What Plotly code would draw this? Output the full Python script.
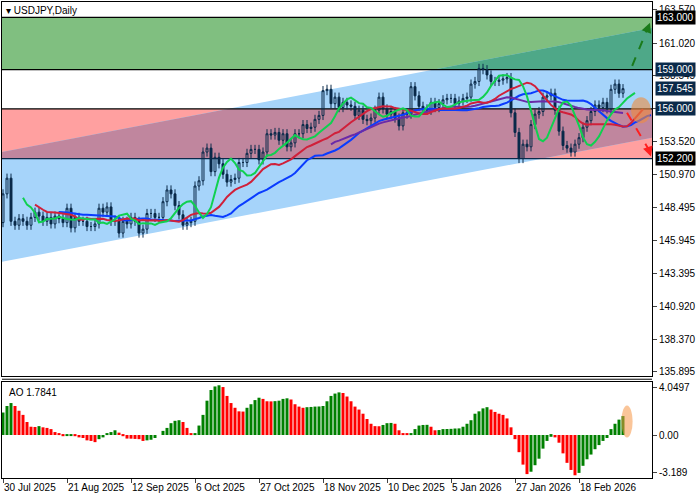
import plotly.graph_objects as go

dates = ["30 Jul 2025","21 Aug 2025","12 Sep 2025","6 Oct 2025","27 Oct 2025","18 Nov 2025",
         "10 Dec 2025","5 Jan 2026","27 Jan 2026","18 Feb 2026"]
closes = [149.5,150.7,147.4,147.1,147.6,147.4,147.1,147.7,148.1,147.8,147.4,147.7,147.2,147.8,147.6,147.3,
          148.4,146.9,147.7,147.4,147.4,147.0,147.0,147.2,148.4,148.1,148.5,147.4,147.5,146.5,147.4,147.2,
          147.7,147.4,146.5,146.8,148.0,148.0,147.7,147.7,148.9,149.8,149.5,148.6,147.9,147.1,147.3,147.4,
          150.1,150.5,152.7,153.0,151.2,152.3,151.8,151.0,150.4,150.6,150.7,151.9,151.9,152.6,152.9,
          152.9,152.1,152.7,154.1,154.0,154.2,153.6,154.1,153.1,153.4,154.1,154.1,154.8,154.5,154.6,
          155.2,155.5,157.4,157.5,156.4,156.9,156.1,156.5,156.3,156.2,155.5,155.9,155.2,155.1,155.3,
          155.9,156.9,156.0,155.6,155.8,155.3,154.7,155.7,155.6,157.7,157.0,156.2,156.0,155.9,156.5,
          156.1,156.4,156.7,156.8,156.8,156.4,156.6,156.8,156.9,157.9,158.1,159.1,159.0,158.6,158.1,
          158.1,158.2,158.3,158.4,155.7,154.2,152.2,153.3,153.1,154.8,155.6,155.8,156.9,157.0,157.2,
          155.9,154.3,153.2,153.0,152.7,153.3,153.8,154.6,155.1,155.8,156.3,156.1,156.5,156.0,157.5,
          157.9,157.2,157.55]
ao = [1.9,2.45,2.7,2.45,2.05,1.7,1.1,0.7,0.68,0.75,0.65,0.6,0.5,0.25,0.08,-0.1,-0.05,-0.04,-0.1,-0.2,
      -0.25,-0.45,-0.5,-0.6,-0.35,-0.2,0.15,0.25,0.4,0.2,-0.1,-0.3,-0.31,-0.33,-0.35,-0.5,-0.45,-0.4,-0.25,0.0,
      0.35,0.6,1.0,1.2,1.25,1.1,0.6,0.1,0.15,0.8,1.7,2.9,3.8,4.1,4.2,4.05,3.3,2.7,2.3,2.0,
      1.98,2.3,2.6,2.95,3.15,3.05,2.85,2.84,2.86,2.9,3.05,3.1,3.0,2.6,2.4,2.3,2.35,2.37,2.4,2.41,
      2.45,2.85,3.3,3.5,3.6,3.55,3.25,2.85,2.4,2.15,1.8,1.35,0.95,0.75,0.74,0.85,1.0,1.02,0.95,0.4,
      0.1,0.09,0.15,0.5,0.8,0.85,0.86,0.7,0.4,0.42,0.5,0.51,0.52,0.55,0.56,0.7,0.95,1.25,1.8,2.0,
      2.25,2.35,2.15,1.95,1.8,1.7,1.4,0.65,-0.35,-1.45,-2.5,-3.3,-3.1,-2.55,-2.0,-1.15,-0.5,-0.15,-0.2,-0.65,
      -1.55,-2.35,-2.95,-3.4,-3.2,-2.6,-2.05,-1.65,-1.2,-0.85,-0.5,-0.25,0.5,0.95,1.3,1.6,1.7841]
price_ticks = [163.570,161.020,158.545,156.000,153.520,150.970,148.495,145.945,143.395,140.920,138.370,135.895]

n = len(closes)
idx = list(range(n))
opens = [147.3] + closes[:-1]
highs = [max(o, c) + 0.35 for o, c in zip(opens, closes)]
lows = [min(o, c) - 0.35 for o, c in zip(opens, closes)]

def sma(v, p):
    out = []
    for i in range(len(v)):
        w = v[max(0, i - p + 1):i + 1]
        out.append(sum(w) / len(w))
    return out

fig = go.Figure()
XMAX = 162.25

def line_at(x, y0, slope):
    return y0 + slope * (x + 0.25)
slope = 9.5 / 162.5
lo0, hi0 = 144.3, 152.7
chan = [(-0.25, lo0), (XMAX, line_at(XMAX, lo0, slope)), (XMAX, line_at(XMAX, hi0, slope)), (-0.25, hi0)]

def clip(poly, lo, hi):
    def cl(pts, keep, inter):
        out = []
        for i in range(len(pts)):
            a, b = pts[i - 1], pts[i]
            ka, kb = keep(a), keep(b)
            if kb:
                if not ka:
                    out.append(inter(a, b))
                out.append(b)
            elif ka:
                out.append(inter(a, b))
        return out
    def ix(yv):
        return lambda a, b: (a[0] + (b[0] - a[0]) * (yv - a[1]) / (b[1] - a[1]), yv)
    p = cl(poly, lambda q: q[1] >= lo, ix(lo))
    p = cl(p, lambda q: q[1] <= hi, ix(hi))
    return p

def path(pts):
    return "M " + " L ".join(f"{x},{y}" for x, y in pts) + " Z"

shp = []
shp.append(dict(type="rect", xref="x", yref="y", x0=-0.25, x1=XMAX, y0=159, y1=163, fillcolor="rgb(128,191,128)", line_width=0, layer="below"))
shp.append(dict(type="rect", xref="x", yref="y", x0=-0.25, x1=XMAX, y0=152.2, y1=156, fillcolor="rgb(255,160,160)", line_width=0, layer="below"))
shp.append(dict(type="path", xref="x", yref="y", path=path(chan), fillcolor="rgb(166,212,250)", line_width=0, layer="below"))
shp.append(dict(type="path", xref="x", yref="y", path=path(clip(chan, 152.2, 156)), fillcolor="rgb(192,134,158)", line_width=0, layer="below"))
shp.append(dict(type="path", xref="x", yref="y", path=path(clip(chan, 159, 163)), fillcolor="rgb(78,168,136)", line_width=0, layer="below"))
for lv, col in zip([163, 159, 156, 152.2], ["black", "black", "black", "#0a2a4a"]):
    shp.append(dict(type="line", xref="x", yref="y", x0=-0.25, x1=XMAX, y0=lv, y1=lv, line=dict(color=col, width=1.2), layer="below"))
shp.append(dict(type="line", xref="x", yref="y", x0=157.3, y0=159.3, x1=161.2, y1=162.2, line=dict(color="#1a7a1a", width=2, dash="dash")))
shp.append(dict(type="line", xref="x", yref="y", x0=156.0, y0=155.7, x1=161.6, y1=152.8, line=dict(color="#ff2020", width=2, dash="dash")))
shp.append(dict(type="circle", xref="x", yref="y", x0=157.0, x1=162.0, y0=154.9, y1=156.9, fillcolor="rgba(240,140,60,0.6)", line_width=0))
shp.append(dict(type="circle", xref="x", yref="y2", x0=154.6, x1=157.4, y0=-0.2, y1=2.5, fillcolor="rgba(245,150,70,0.55)", line_width=0))
shp.append(dict(type="line", xref="paper", yref="paper", x0=0, x1=1, y0=0.2075, y1=0.2075, line=dict(color="black", width=1)))

fig.add_trace(go.Candlestick(x=idx, open=opens, high=highs, low=lows, close=closes,
    increasing=dict(line=dict(color="#0a2a4a", width=1), fillcolor="rgba(0,0,0,0)"),
    decreasing=dict(line=dict(color="#0a2a4a", width=1), fillcolor="#0a2a4a"),
    whiskerwidth=0, xaxis="x", yaxis="y", showlegend=False, hoverinfo="skip"))

def shifted(vals, sh, start=0):
    xs = [i + sh for i in range(start, n) if i + sh <= XMAX]
    return xs, [vals[i] for i in range(start, n) if i + sh <= XMAX]

for p, sh, col, st in [(21, 8, "#0a3cff", 6), (34, 0, "#6a2aa8", 82), (13, 5, "#d0203a", 3), (5, 3, "#10d050", 2)]:
    xs, ys = shifted(sma(closes, p), sh, st)
    fig.add_trace(go.Scatter(x=xs, y=ys, mode="lines", line=dict(color=col, width=2), xaxis="x", yaxis="y", showlegend=False, hoverinfo="skip"))

cols = ["#008000"] + ["#008000" if ao[i] > ao[i - 1] else "#ff0000" for i in range(1, n)]
fig.add_trace(go.Bar(x=idx, y=ao, marker=dict(color=cols, line_width=0), xaxis="x2", yaxis="y2", showlegend=False, hoverinfo="skip"))

tick_idx = [i * 16 for i in range(len(dates))]
FAM = "Liberation Sans"
font = dict(family=FAM, size=10, color="black")
fig.update_layout(
    width=700, height=500, margin=dict(l=2, r=48, t=2, b=22, autoexpand=False),
    paper_bgcolor="white", plot_bgcolor="white", font=font, bargap=0.25, shapes=shp,
    xaxis=dict(domain=[0, 1], range=[-0.25, XMAX], anchor="y", showticklabels=False, showgrid=False,
               showline=True, mirror=True, linecolor="black", rangeslider=dict(visible=False), zeroline=False),
    yaxis=dict(domain=[0.215, 1], range=[135.59, 164.18], side="right", tickvals=price_ticks,
               ticktext=["" if v == 156.0 else f"{v:.3f}" for v in price_ticks], ticks="outside", ticklen=4, showgrid=False,
               showline=True, mirror=True, linecolor="black", zeroline=False, tickfont=font, automargin=False),
    xaxis2=dict(domain=[0, 1], range=[-0.25, XMAX], anchor="y2", tickvals=tick_idx, ticktext=dates,
                ticks="outside", ticklen=4, ticklabelposition="outside right", tickangle=0, showgrid=False,
                showline=True, mirror=True, linecolor="black", zeroline=False, tickfont=font, automargin=False),
    yaxis2=dict(domain=[0, 0.2015], range=[-3.63, 4.47], side="right", tickvals=[4.0497, 0, -3.189],
                ticktext=["4.0497", "0.00", "-3.189"], ticks="outside", ticklen=4, showgrid=False,
                showline=True, mirror=True, linecolor="black", zeroline=False, tickfont=font, anchor="x2", automargin=False),
)

ann = []
ann.append(dict(xref="paper", yref="paper", x=0.003, y=0.997, xanchor="left", yanchor="top", showarrow=False,
                text="▾ USDJPY,Daily", font=font))
ann.append(dict(xref="paper", yref="paper", x=0.008, y=0.195, xanchor="left", yanchor="top", showarrow=False,
                text="AO 1.7841", font=font))
for lv, bg in [(163.0, "black"), (159.0, "#0a2a4a"), (157.545, "#0a2a4a"), (156.0, "#0a2a4a"), (152.2, "black")]:
    ann.append(dict(xref="paper", yref="y", x=1, y=lv, xanchor="left", xshift=3, showarrow=False,
                    text=f"{lv:.3f}", bgcolor=bg, borderpad=1, font=dict(family=FAM, size=10, color="white")))
ann.append(dict(xref="x", yref="y", x=161.75, y=162.6, ax=161.0, ay=162.0, axref="x", ayref="y", showarrow=True,
                arrowhead=2, arrowsize=1, arrowwidth=2, arrowcolor="#1a7a1a", text=""))
ann.append(dict(xref="x", yref="y", x=162.0, y=152.35, ax=161.4, ay=152.9, axref="x", ayref="y", showarrow=True,
                arrowhead=2, arrowsize=1, arrowwidth=2, arrowcolor="#ff2020", text=""))
fig.update_layout(annotations=ann)
fig.write_html("out.html", config={"displayModeBar": False},
               post_script="document.body.style.margin='0';document.body.style.overflow='hidden';")
